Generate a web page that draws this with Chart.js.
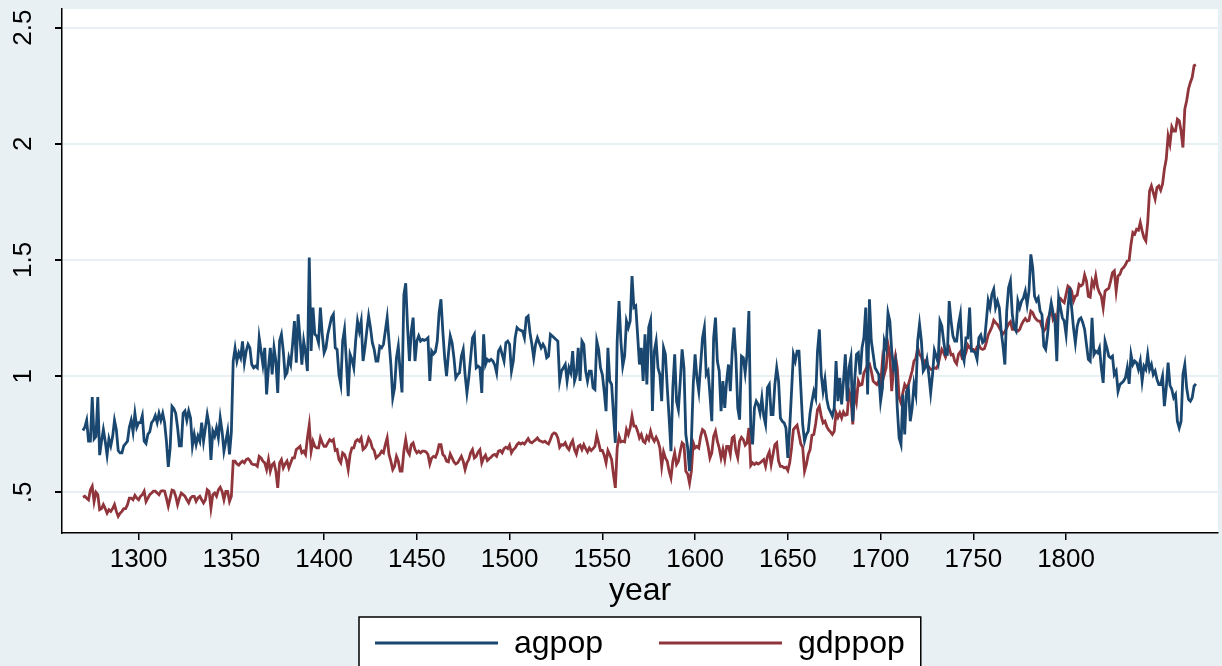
<!DOCTYPE html>
<html><head><meta charset="utf-8">
<script src="https://cdn.jsdelivr.net/npm/chart.js@4.4.0/dist/chart.umd.min.js"></script>
<style>html,body{margin:0;padding:0;background:#E8F0F3;overflow:hidden}#wrap{width:1222px;height:666px}</style>
</head><body><div id="wrap"><canvas id="c" width="1222" height="666"></canvas></div>
<script>
const firstYear = 1270;
const agpop = [
0.766,0.78,0.81,0.72,0.72,0.91,0.73,0.74,0.91,0.66,
0.72,0.77,0.72,0.66,0.73,0.70,0.74,0.81,0.77,0.68,
0.67,0.67,0.70,0.71,0.72,0.78,0.81,0.76,0.84,0.78,
0.80,0.80,0.83,0.72,0.71,0.75,0.76,0.80,0.81,0.83,
0.80,0.84,0.81,0.84,0.80,0.72,0.61,0.69,0.87,0.86,
0.84,0.78,0.70,0.70,0.84,0.85,0.81,0.85,0.82,0.70,
0.749,0.706,0.742,0.72,0.80,0.72,0.777,0.835,0.79,0.64,
0.763,0.742,0.777,0.734,0.82,0.763,0.677,0.72,0.763,0.663,
0.76,1.065,1.12,1.065,1.10,1.079,1.15,1.058,1.108,1.137,
1.122,1.05,1.036,1.043,1.036,1.165,1.108,1.05,1.122,0.921,
1.036,1.122,1.007,1.122,1.065,0.928,1.151,1.18,1.108,1.0,
1.014,1.079,1.05,1.137,1.237,1.058,1.266,1.165,1.05,1.151,
1.10,1.022,1.51,1.108,1.295,1.18,1.173,1.144,1.295,1.18,
1.101,1.122,1.18,1.216,1.252,1.266,1.122,1.115,1.007,0.964,
1.151,1.201,1.065,0.914,1.094,1.072,1.036,1.151,1.237,1.194,
1.237,1.065,1.122,1.194,1.259,1.209,1.144,1.115,1.065,1.065,
1.129,1.122,1.137,1.194,1.252,1.151,1.05,0.907,0.95,1.079,
1.129,1.022,0.93,1.35,1.40,1.21,1.065,1.194,1.252,1.065,
1.151,1.173,1.151,1.158,1.154,1.158,1.165,0.979,1.108,1.096,
1.105,1.151,1.273,1.331,1.194,1.079,1.0,1.094,1.173,1.144,
1.079,0.993,1.007,1.014,1.086,1.115,1.007,0.928,0.993,1.079,
1.165,1.18,1.036,1.043,1.036,0.928,1.18,1.05,1.072,1.065,
1.072,1.065,1.048,1.014,1.108,1.122,1.094,1.065,1.144,1.151,
1.137,1.022,1.065,1.165,1.209,1.201,1.197,1.194,1.165,1.252,
1.259,1.187,1.137,1.079,1.137,1.165,1.144,1.122,1.137,1.122,
1.079,1.086,1.18,1.173,1.165,1.158,1.151,0.979,1.022,1.036,
1.05,0.979,1.036,1.014,1.108,0.979,1.007,1.122,0.979,1.151,
1.137,1.022,0.979,1.022,1.022,0.95,0.943,1.151,1.115,1.036,
1.007,0.935,0.849,1.122,0.979,0.964,0.835,0.713,1.151,1.323,
1.151,1.043,1.086,1.237,1.209,1.237,1.431,1.295,1.302,1.18,
1.05,1.122,0.979,1.18,0.964,1.21,1.24,0.85,1.108,1.151,
1.036,1.007,0.892,1.122,1.094,0.95,0.82,0.677,0.95,1.094,
0.892,0.856,0.979,1.115,1.036,0.749,0.691,0.591,0.72,0.964,
1.094,0.993,0.935,1.05,1.165,1.209,1.007,1.022,0.921,0.806,
1.165,1.252,1.065,1.022,0.849,0.979,0.863,0.979,1.05,0.935,
1.108,1.209,1.079,0.863,0.813,1.086,1.079,1.014,1.094,1.28,
0.777,0.706,0.863,0.892,0.878,0.842,0.907,0.828,0.792,0.95,
0.964,0.835,0.835,0.964,1.036,0.979,0.82,0.806,0.799,0.777,
0.648,0.777,0.935,1.094,1.065,1.108,1.108,0.95,0.792,0.72,
0.749,0.763,0.842,0.892,0.935,0.907,1.108,1.201,1.007,0.935,
0.986,0.9,0.863,0.846,0.828,0.863,1.065,0.892,0.993,0.878,
0.979,1.094,0.892,1.036,1.079,0.806,0.979,1.094,1.101,1.007,
1.122,1.165,1.295,0.921,1.331,1.151,1.094,1.036,1.022,1.007,
0.892,0.95,1.151,1.122,1.273,1.237,1.108,1.036,1.065,0.863,
0.734,0.706,0.921,0.749,0.935,0.95,0.806,0.863,0.964,0.921,
1.151,1.223,1.151,1.022,1.036,1.072,1.007,0.928,1.007,1.111,
1.086,1.058,1.237,1.216,1.151,1.094,1.094,1.323,1.237,1.173,
1.151,1.151,1.223,1.266,1.094,1.065,1.165,1.165,1.295,1.108,
1.108,1.101,1.072,1.165,1.177,1.144,1.151,1.237,1.326,1.295,
1.352,1.374,1.295,1.323,1.294,1.194,1.129,1.05,1.28,1.38,
1.409,1.266,1.208,1.194,1.323,1.294,1.323,1.337,1.366,1.308,
1.366,1.524,1.467,1.344,1.323,1.337,1.28,1.265,1.129,1.115,
1.179,1.265,1.316,1.273,1.237,1.064,1.337,1.294,1.251,1.237,
1.179,1.294,1.38,1.294,1.208,1.143,1.215,1.244,1.251,1.23,
1.201,1.136,1.072,1.064,1.251,1.093,1.107,1.1,1.122,1.036,
0.971,1.151,1.122,1.086,1.079,1.086,1.007,1.022,0.935,0.964,
0.971,0.979,0.993,1.036,0.967,1.093,1.05,1.065,1.058,1.029,
1.065,0.979,1.043,1.029,1.093,1.029,1.05,1.007,1.022,0.986,
0.964,0.964,1.0,0.871,0.95,1.058,0.961,0.943,0.907,0.921,
0.806,0.777,0.806,1.007,1.05,0.95,0.9,0.892,0.907,0.957,0.967
];
const gdppop = [
0.479,0.483,0.475,0.468,0.51,0.526,0.46,0.50,0.49,0.425,
0.43,0.447,0.43,0.41,0.425,0.418,0.43,0.447,0.418,0.397,
0.41,0.418,0.43,0.43,0.447,0.475,0.475,0.468,0.487,0.475,
0.468,0.483,0.49,0.505,0.46,0.475,0.49,0.497,0.505,0.505,
0.497,0.49,0.505,0.507,0.505,0.475,0.44,0.475,0.51,0.507,
0.483,0.447,0.475,0.497,0.49,0.483,0.468,0.455,0.475,0.483,
0.483,0.461,0.476,0.483,0.468,0.454,0.468,0.511,0.504,0.432,
0.49,0.497,0.483,0.511,0.522,0.504,0.468,0.504,0.504,0.461,
0.483,0.634,0.634,0.622,0.617,0.627,0.634,0.627,0.641,0.645,
0.637,0.622,0.619,0.619,0.612,0.655,0.648,0.634,0.627,0.598,
0.641,0.591,0.619,0.627,0.591,0.519,0.627,0.641,0.605,0.622,
0.634,0.605,0.627,0.648,0.648,0.684,0.691,0.698,0.67,0.677,
0.663,0.734,0.79,0.677,0.72,0.698,0.691,0.691,0.734,0.713,
0.698,0.698,0.713,0.727,0.72,0.727,0.68,0.684,0.641,0.627,
0.67,0.663,0.641,0.598,0.663,0.691,0.691,0.72,0.727,0.72,
0.734,0.684,0.691,0.705,0.734,0.72,0.691,0.68,0.648,0.655,
0.663,0.677,0.67,0.705,0.734,0.663,0.634,0.598,0.612,0.655,
0.634,0.591,0.591,0.677,0.727,0.677,0.663,0.705,0.713,0.684,
0.67,0.677,0.67,0.677,0.677,0.674,0.663,0.622,0.648,0.655,
0.651,0.67,0.705,0.705,0.663,0.655,0.634,0.631,0.665,0.648,
0.631,0.622,0.627,0.641,0.655,0.634,0.598,0.627,0.641,0.67,
0.684,0.648,0.655,0.674,0.684,0.627,0.648,0.66,0.637,0.645,
0.651,0.66,0.663,0.655,0.677,0.68,0.67,0.688,0.694,0.688,
0.703,0.67,0.684,0.691,0.705,0.713,0.708,0.713,0.708,0.72,
0.731,0.717,0.713,0.72,0.726,0.734,0.723,0.72,0.716,0.72,
0.713,0.708,0.727,0.749,0.756,0.752,0.734,0.694,0.705,0.703,
0.713,0.694,0.684,0.708,0.723,0.684,0.665,0.698,0.703,0.684,
0.705,0.688,0.674,0.691,0.68,0.688,0.698,0.746,0.713,0.68,
0.68,0.66,0.627,0.68,0.663,0.641,0.576,0.519,0.691,0.741,
0.717,0.72,0.717,0.77,0.749,0.777,0.828,0.785,0.785,0.763,
0.734,0.749,0.72,0.713,0.741,0.727,0.763,0.734,0.72,0.737,
0.72,0.691,0.612,0.674,0.648,0.634,0.591,0.562,0.634,0.67,
0.62,0.634,0.677,0.713,0.705,0.591,0.579,0.54,0.591,0.713,
0.691,0.698,0.691,0.741,0.77,0.763,0.734,0.698,0.648,0.67,
0.741,0.763,0.72,0.691,0.648,0.684,0.641,0.698,0.698,0.663,
0.734,0.741,0.677,0.648,0.72,0.737,0.727,0.703,0.713,0.777,
0.616,0.627,0.62,0.627,0.622,0.627,0.634,0.641,0.612,0.655,
0.674,0.62,0.663,0.705,0.713,0.634,0.612,0.612,0.605,0.608,
0.594,0.627,0.691,0.77,0.78,0.789,0.749,0.708,0.694,0.591,
0.62,0.663,0.684,0.746,0.749,0.795,0.856,0.871,0.828,0.799,
0.806,0.783,0.769,0.76,0.749,0.763,0.842,0.823,0.842,0.82,
0.846,0.832,0.835,0.935,0.907,0.792,0.935,0.892,0.979,0.961,
0.964,1.014,1.029,1.05,1.053,1.022,0.979,0.971,0.964,0.979,
0.964,1.065,1.007,1.036,1.137,1.094,0.935,1.036,1.086,1.036,
0.907,0.885,0.928,0.964,0.95,0.964,0.993,1.022,1.065,1.076,
1.122,1.094,1.082,1.05,1.065,1.053,1.039,1.029,1.029,1.036,
1.033,1.048,1.086,1.115,1.101,1.082,1.108,1.122,1.091,1.094,
1.065,1.053,1.094,1.105,1.076,1.079,1.101,1.134,1.122,1.115,
1.115,1.104,1.125,1.134,1.119,1.115,1.119,1.144,1.177,1.194,
1.211,1.24,1.23,1.223,1.208,1.194,1.182,1.191,1.208,1.225,
1.234,1.201,1.201,1.201,1.194,1.201,1.222,1.237,1.248,1.237,
1.24,1.28,1.273,1.254,1.244,1.237,1.237,1.211,1.194,1.205,
1.244,1.263,1.291,1.244,1.258,1.215,1.326,1.334,1.323,1.316,
1.352,1.388,1.381,1.366,1.323,1.344,1.349,1.395,1.388,1.395,
1.435,1.409,1.344,1.34,1.409,1.388,1.431,1.381,1.359,1.344,
1.294,1.366,1.373,1.378,1.409,1.445,1.453,1.366,1.431,1.438,
1.46,1.467,1.479,1.496,1.499,1.568,1.618,1.611,1.632,1.628,
1.661,1.625,1.596,1.582,1.661,1.797,1.819,1.79,1.762,1.812,
1.819,1.8,1.826,1.891,1.934,2.034,1.999,2.073,2.055,2.055,
2.106,2.099,2.055,1.984,2.149,2.185,2.236,2.264,2.286,2.336,2.34
];
const years = agpop.map((_, i) => firstYear + i);
const xTickValues = [1300, 1350, 1400, 1450, 1500, 1550, 1600, 1650, 1700, 1750, 1800];
const yTickValues = [0.5, 1, 1.5, 2, 2.5];
const yTickLabels = ['.5', '1', '1.5', '2', '2.5'];
const seriesNames = ['agpop', 'gdppop'];

const BG = '#E8F0F3';
const FONT = 'Liberation Sans, Arial, Helvetica, sans-serif';

const bgPlugin = {
  id: 'bg',
  beforeDraw(chart) {
    const {ctx, chartArea: a} = chart;
    ctx.save();
    ctx.fillStyle = BG;
    ctx.fillRect(0, 0, chart.width, chart.height);
    ctx.fillStyle = '#ffffff';
    ctx.fillRect(a.left, a.top, a.right - a.left, a.bottom - a.top);
    ctx.restore();
  }
};

const legendPlugin = {
  id: 'boxLegend',
  afterDraw(chart) {
    const {ctx, chartArea: a} = chart;
    const fs = 32, lineLen = 123, gap = 16, itemGap = 56, pad = 16;
    ctx.save();
    ctx.font = fs + 'px ' + FONT;
    const ds = chart.data.datasets;
    const widths = ds.map(d => ctx.measureText(d.label).width);
    let total = pad * 2 + itemGap * (ds.length - 1);
    widths.forEach(w => total += lineLen + gap + w);
    const cx = (a.left + a.right) / 2;
    const left = Math.round(cx - total / 2);
    const top = 617;
    ctx.fillStyle = '#ffffff';
    ctx.fillRect(left, top, total, 80);
    ctx.strokeStyle = '#000000';
    ctx.lineWidth = 1.5;
    ctx.strokeRect(left, top, total, 80);
    let x = left + pad;
    const y = 643;
    ds.forEach((d, i) => {
      ctx.strokeStyle = d.borderColor;
      ctx.lineWidth = 3;
      ctx.beginPath();
      ctx.moveTo(x, y); ctx.lineTo(x + lineLen, y);
      ctx.stroke();
      x += lineLen + gap;
      ctx.fillStyle = '#000000';
      ctx.textBaseline = 'middle';
      ctx.textAlign = 'left';
      ctx.fillText(d.label, x, y + 1);
      x += widths[i] + itemGap;
    });
    ctx.restore();
  }
};

new Chart(document.getElementById('c'), {
  type: 'line',
  data: {
    datasets: [
      { label: seriesNames[0], data: years.map((x, i) => ({x, y: agpop[i]})),
        borderColor: '#1a476f', backgroundColor: '#1a476f', borderWidth: 2.8, pointRadius: 0, tension: 0 },
      { label: seriesNames[1], data: years.map((x, i) => ({x, y: gdppop[i]})),
        borderColor: '#90353b', backgroundColor: '#90353b', borderWidth: 2.8, pointRadius: 0, tension: 0 }
    ]
  },
  options: {
    responsive: false, animation: false, devicePixelRatio: 1,
    layout: { padding: { left: 0, top: 9, right: 4, bottom: 0 } },
    scales: {
      x: {
        type: 'linear', min: 1258.7, max: 1881.9,
        afterBuildTicks: s => { s.ticks = xTickValues.map(v => ({ value: v })); },
        afterFit: s => { s.height = 133; s.paddingLeft = 0; s.paddingRight = 0; },
        ticks: { font: { family: FONT, size: 26 }, color: '#000', padding: 4, maxRotation: 0, autoSkip: false,
                 callback: v => String(v) },
        grid: { drawOnChartArea: false, drawTicks: true, tickLength: 7, tickColor: '#000', lineWidth: 1.5 },
        border: { display: true, color: '#000', width: 1.5 },
        title: { display: true, text: 'year', color: '#000', font: { family: FONT, size: 32 }, padding: { top: 0, bottom: 56 } }
      },
      y: {
        min: 0.325, max: 2.58,
        afterBuildTicks: s => { s.ticks = yTickValues.map(v => ({ value: v })); },
        afterFit: s => { s.width = 62; s.paddingTop = 0; s.paddingBottom = 0; },
        ticks: { font: { family: FONT, size: 26 }, color: '#000', padding: 13, minRotation: 90, maxRotation: 90,
                 crossAlign: 'center', autoSkip: false,
                 callback: v => { const k = yTickValues.indexOf(v); return k >= 0 ? yTickLabels[k] : ''; } },
        grid: { color: BG, lineWidth: 2, drawTicks: true, tickLength: 7, tickColor: '#000' },
        border: { display: true, color: '#000', width: 1.5 }
      }
    },
    plugins: { legend: { display: false }, tooltip: { enabled: false }, title: { display: false } }
  },
  plugins: [bgPlugin, legendPlugin]
});
</script></body></html>
